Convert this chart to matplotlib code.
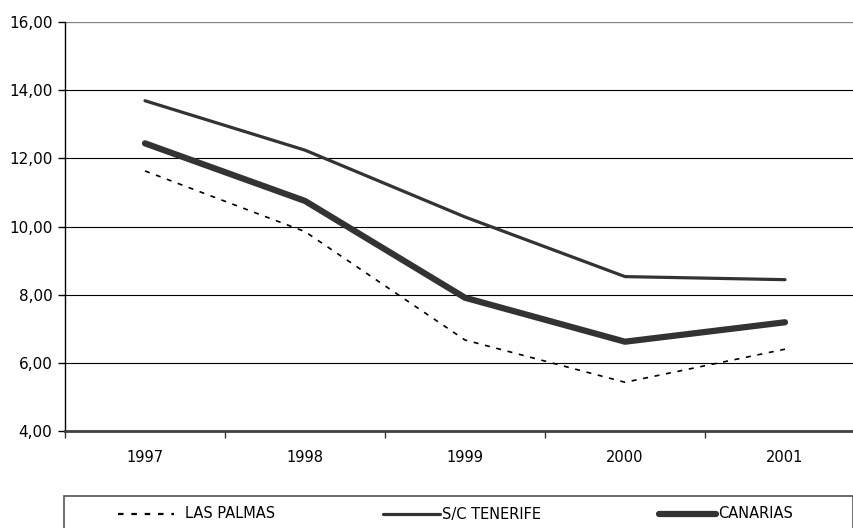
import matplotlib
matplotlib.use("Agg")
import matplotlib.pyplot as plt
from matplotlib.lines import Line2D
from matplotlib.patches import Rectangle
from matplotlib.ticker import FuncFormatter, FixedLocator

years = ["1997", "1998", "1999", "2000", "2001"]
las_palmas = [11.63, 9.85, 6.67, 5.43, 6.40]
sc_tenerife = [13.69, 12.24, 10.28, 8.53, 8.44]
canarias = [12.44, 10.75, 7.91, 6.62, 7.19]
series_labels = ["LAS PALMAS", "S/C TENERIFE", "CANARIAS"]

W, H = 854, 528
fig = plt.figure(figsize=(W / 100, H / 100), dpi=100)
plt.rcParams['font.family'] = ['DejaVu Sans']

# axes extends past right edge (cropped original)
left, right, top, bottom = 65, 865, 22, 431
ax = fig.add_axes([left / W, 1 - bottom / H, (right - left) / W, (bottom - top) / H])

x = list(range(len(years)))
dark = "#333333"
ax.plot(x, las_palmas, color="black", lw=1.2, linestyle=(0, (3, 4)), zorder=3)
ax.plot(x, sc_tenerife, color=dark, lw=2.3, solid_capstyle="round", zorder=3)
ax.plot(x, canarias, color=dark, lw=4.5, solid_capstyle="round", zorder=3)

ax.set_xlim(-0.5, len(years) - 0.5)
ax.set_ylim(4, 16)
ax.set_yticks([4, 6, 8, 10, 12, 14, 16])
ax.yaxis.set_major_formatter(FuncFormatter(lambda v, p: f"{v:.2f}".replace(".", ",")))
ax.set_xticks(x)
ax.set_xticklabels(years)
ax.xaxis.set_minor_locator(FixedLocator([i - 0.5 for i in range(len(years) + 1)]))
ax.tick_params(axis="x", which="major", length=0, pad=14, labelsize=10.5, colors="black")
ax.tick_params(axis="x", which="minor", length=5, width=1, color="#333333", direction="out")
ax.tick_params(axis="y", length=5, width=1, direction="out", pad=4, labelsize=11, colors="black")

ax.grid(axis="y", color="black", lw=0.8, zorder=1)
for s in ["top", "right"]:
    ax.spines[s].set_visible(False)
ax.spines["left"].set_color("black")
ax.spines["left"].set_linewidth(1)
ax.spines["bottom"].set_color("#404040")
ax.spines["bottom"].set_linewidth(2)
ax.axhline(16, color="#808080", lw=1.5, zorder=2)

# legend box (bottom cut off in original)
fig.add_artist(Rectangle((64 / W, -0.05), (853 - 64) / W, 1 - 496 / H + 0.05,
                         transform=fig.transFigure, fill=False, edgecolor="#555555", lw=1.2))
ly = 1 - 514 / H
fig.add_artist(Line2D([118 / W, 174 / W], [ly, ly], transform=fig.transFigure,
                      color="black", lw=1.6, linestyle=(0, (2.5, 3.5))))
fig.text(185 / W, ly, series_labels[0], va="center", ha="left", fontsize=10.5)
fig.add_artist(Line2D([383 / W, 440 / W], [ly, ly], transform=fig.transFigure,
                      color=dark, lw=2.3, solid_capstyle="round"))
fig.text(442 / W, ly, series_labels[1], va="center", ha="left", fontsize=10.5)
fig.add_artist(Line2D([659 / W, 716 / W], [ly, ly], transform=fig.transFigure,
                      color=dark, lw=4.5, solid_capstyle="round"))
fig.text(718 / W, ly, series_labels[2], va="center", ha="left", fontsize=10.5)

fig.savefig("out.png", dpi=100)
